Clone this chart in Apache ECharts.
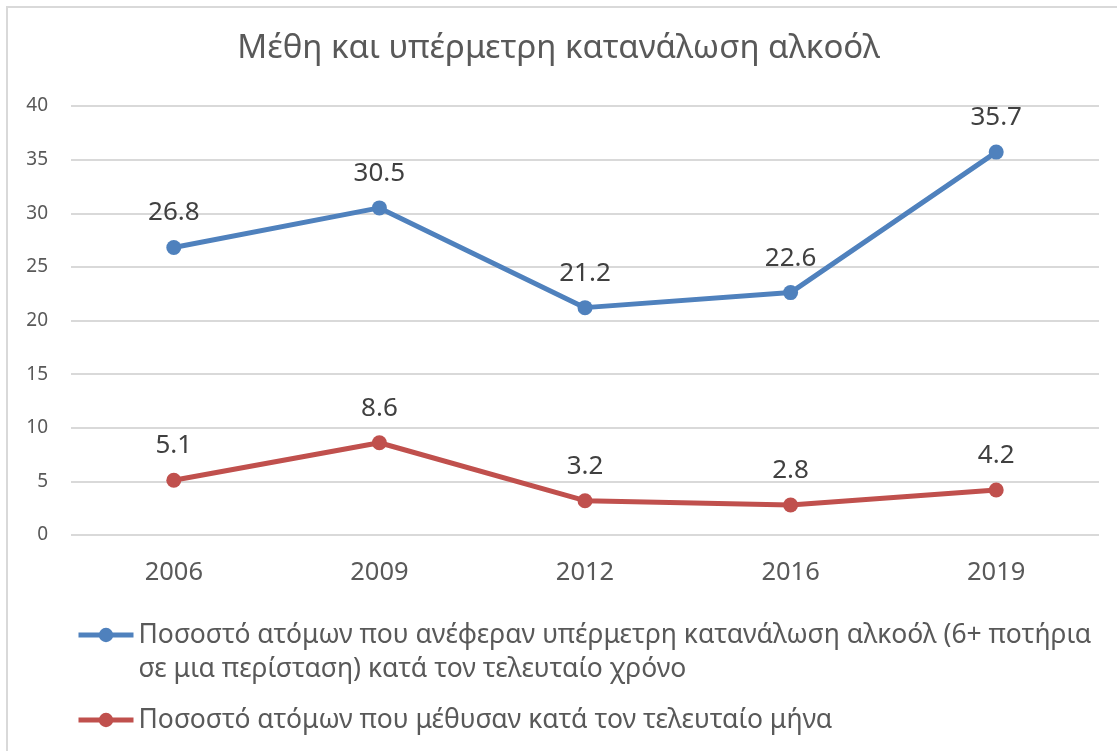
<!DOCTYPE html>
<html>
<head>
<meta charset="utf-8">
<script src="https://cdn.jsdelivr.net/npm/echarts@6/dist/echarts.min.js"></script>
<style>
	html, body { margin: 0; padding: 0; background: #fff; }
	#chart { width: 1117px; height: 751px; }
</style>
</head>
<body>
<div id="chart"></div>
<script>
	// δεδομένα
	var years = ['2006', '2009', '2012', '2016', '2019'];
	var heavyDrinking = [26.8, 30.5, 21.2, 22.6, 35.7];
	var drunk = [5.1, 8.6, 3.2, 2.8, 4.2];
	var yTicks = [0, 5, 10, 15, 20, 25, 30, 35, 40];

	var nameHeavy = 'Ποσοστό ατόμων που ανέφεραν υπέρμετρη κατανάλωση αλκοόλ (6+ ποτήρια σε μια περίσταση) κατά τον τελευταίο χρόνο';
	var nameDrunk = 'Ποσοστό ατόμων που μέθυσαν κατά τον τελευταίο μήνα';

	var font = 'Noto Sans';
	var textColor = '#595959';

	var myChart = echarts.init(document.getElementById('chart'));

	var option = {
		backgroundColor: '#fff',
		animation: false,
		title: {
			text: 'Μέθη και υπέρμετρη κατανάλωση αλκοόλ',
			left: 'center',
			top: 27,
			textStyle: { fontFamily: font, fontSize: 33, fontWeight: 'normal', color: textColor }
		},
		graphic: [{
			type: 'rect',
			shape: { x: 7, y: 7, width: 1200, height: 800 },
			style: { fill: 'none', stroke: '#D9D9D9', lineWidth: 2 },
			silent: true
		}],
		grid: { left: 71, right: 18, top: 106, bottom: 216 },
		legend: [{
			// κενή γραμμή πάνω ώστε το σύμβολο να ευθυγραμμίζεται με την πρώτη γραμμή
			orient: 'vertical',
			left: 71,
			top: 579,
			itemWidth: 55,
			itemHeight: 18,
			data: [nameHeavy],
			formatter: function() {
				return '\u00a0\nΠοσοστό ατόμων που ανέφεραν υπέρμετρη κατανάλωση αλκοόλ (6+ ποτήρια\nσε μια περίσταση) κατά τον τελευταίο χρόνο';
			},
			lineStyle: { width: 5 },
			textStyle: { fontFamily: font, fontSize: 26.5, color: textColor, lineHeight: 34 }
		}, {
			orient: 'vertical',
			left: 71,
			top: 698,
			itemWidth: 55,
			itemHeight: 18,
			data: [nameDrunk],
			lineStyle: { width: 5 },
			textStyle: { fontFamily: font, fontSize: 26.5, color: textColor, lineHeight: 34 }
		}],
		xAxis: {
			type: 'category',
			data: years,
			boundaryGap: true,
			axisLine: { show: false },
			axisTick: { show: false },
			axisLabel: { fontFamily: font, fontSize: 25.5, color: textColor, margin: 25 }
		},
		yAxis: {
			type: 'value',
			min: yTicks[0],
			max: yTicks[yTicks.length - 1],
			interval: 5,
			axisLine: { show: false },
			axisTick: { show: false },
			splitLine: { lineStyle: { color: '#D9D9D9', width: 2 } },
			axisLabel: { fontFamily: font, fontSize: 19, color: textColor, margin: 23 }
		},
		series: [{
			name: nameHeavy,
			type: 'line',
			data: heavyDrinking,
			symbol: 'circle',
			symbolSize: 15,
			color: '#4F81BD',
			lineStyle: { width: 5 },
			label: { show: true, position: 'top', distance: 14, fontFamily: font, fontSize: 26, color: '#404040' }
		}, {
			name: nameDrunk,
			type: 'line',
			data: drunk,
			symbol: 'circle',
			symbolSize: 15,
			color: '#C0504D',
			lineStyle: { width: 5 },
			label: { show: true, position: 'top', distance: 14, fontFamily: font, fontSize: 26, color: '#404040' }
		}]
	};

	myChart.setOption(option, true);
</script>
</body>
</html>
